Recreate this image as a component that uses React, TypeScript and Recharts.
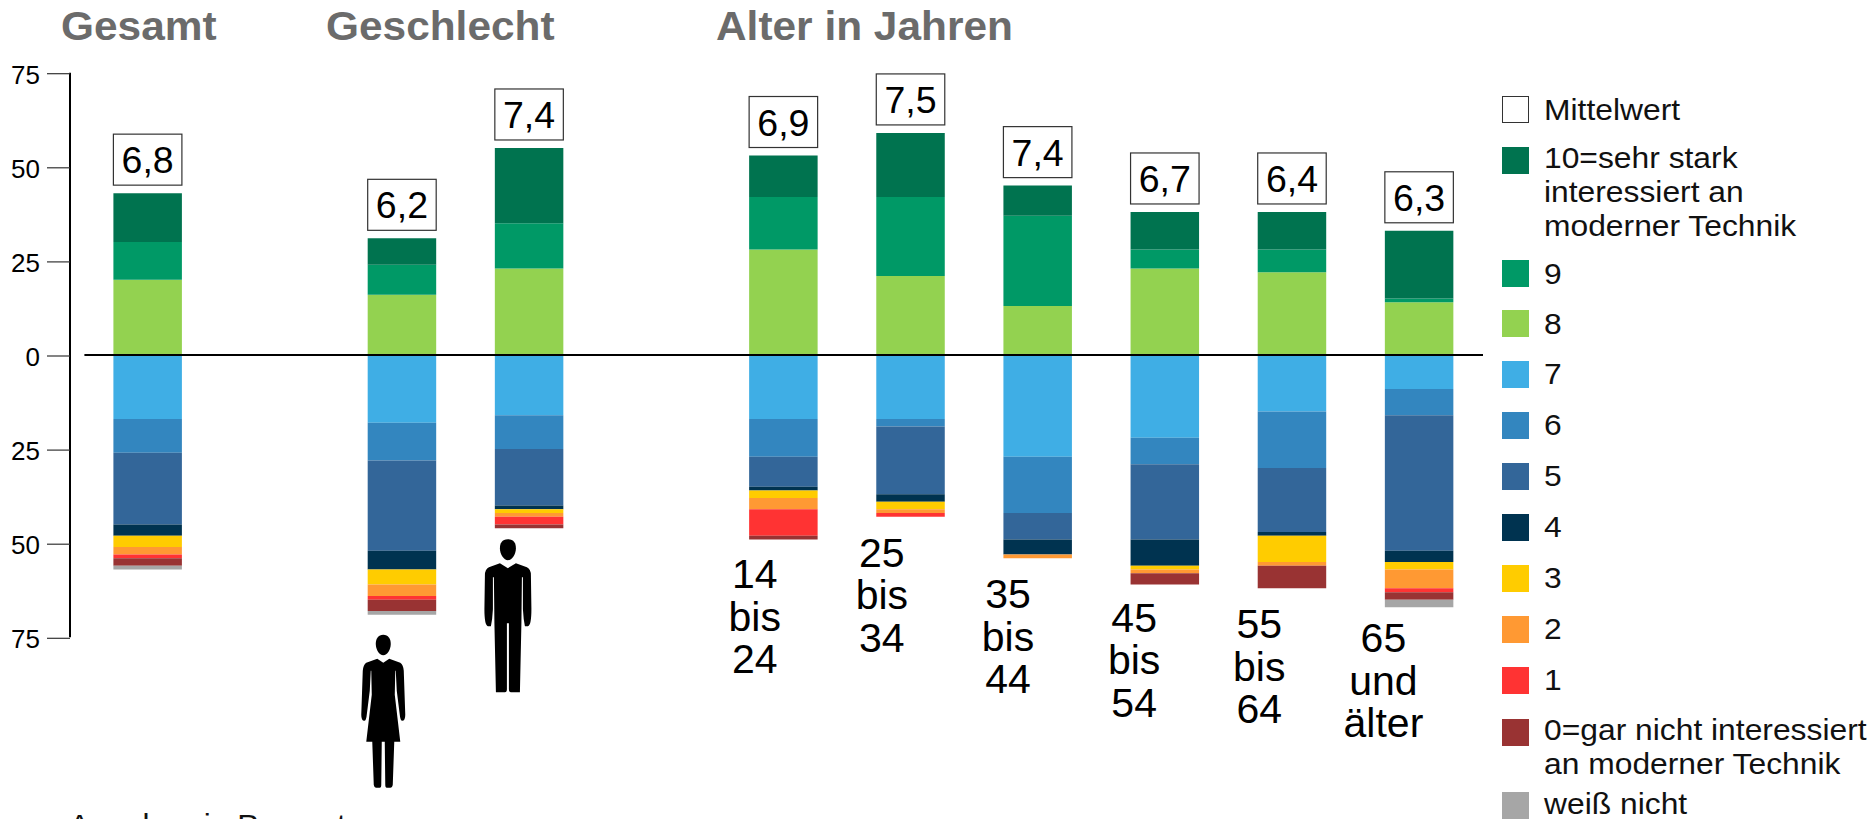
import React from "react";
import {
  Bar,
  ComposedChart,
  LabelList,
  Legend,
  Line,
  ReferenceLine,
  XAxis,
  YAxis,
} from "recharts";

const categories = ["Gesamt", "leer1", "Frauen", "Männer", "leer2", "14-24", "25-34", "35-44", "45-54", "55-64", "65+"];
const means = [6.8, null, 6.2, 7.4, null, 6.9, 7.5, 7.4, 6.7, 6.4, 6.3];
const ageLines = {
  "14-24": ["14", "bis", "24"],
  "25-34": ["25", "bis", "34"],
  "35-44": ["35", "bis", "44"],
  "45-54": ["45", "bis", "54"],
  "55-64": ["55", "bis", "64"],
  "65+": ["65", "und", "älter"],
};
const yTicks = [-75, -50, -25, 0, 25, 50, 75];

// positive part, from the zero line upwards
const s8 = [20, null, 16, 23, null, 28, 21, 13, 23, 22, 14];
const s9 = [10, null, 8, 12, null, 14, 21, 24, 5, 6, 1];
const s10 = [13, null, 7, 20, null, 11, 17, 8, 10, 10, 18];
// negative part, from the zero line downwards
const s7 = [-17, null, -18, -16, null, -17, -17, -27, -22, -15, -9];
const s6 = [-9, null, -10, -9, null, -10, -2, -15, -7, -15, -7];
const s5 = [-19, null, -24, -15, null, -8, -18, -7, -20, -17, -36];
const s4 = [-3, null, -5, -1, null, -1, -2, -4, -7, -1, -3];
const s3 = [-3, null, -4, -1, null, -2, -2, 0, -1, -7, -2];
const s2 = [-2, null, -3, -1, null, -3, -1, -1, -1, -1, -5];
const s1 = [-1, null, -1, -2, null, -7, -1, 0, 0, 0, -1];
const s0 = [-2, null, -3, -1, null, -1, 0, 0, -3, -6, -2];
const sWn = [-1, null, -1, 0, null, 0, 0, 0, 0, 0, -2];

const COLORS = {
  s10: "#00734f",
  s9: "#009966",
  s8: "#93d250",
  s7: "#3faee5",
  s6: "#3386bf",
  s5: "#336699",
  s4: "#003350",
  s3: "#ffcc00",
  s2: "#ff9933",
  s1: "#ff3333",
  s0: "#993333",
  sWn: "#a6a6a6",
};

const stackOrder = [
  { key: "s8", values: s8 },
  { key: "s9", values: s9 },
  { key: "s10", values: s10 },
  { key: "s7", values: s7 },
  { key: "s6", values: s6 },
  { key: "s5", values: s5 },
  { key: "s4", values: s4 },
  { key: "s3", values: s3 },
  { key: "s2", values: s2 },
  { key: "s1", values: s1 },
  { key: "s0", values: s0 },
  { key: "sWn", values: sWn },
];

const data = categories.map((name, i) => {
  const row: any = { name, mean: means[i] };
  let bottom = 0;
  stackOrder.forEach((s) => {
    row[s.key] = s.values[i];
    if ((s.values[i] ?? 0) < 0) bottom += s.values[i] as number;
  });
  row.bottom = means[i] == null ? null : bottom;
  return row;
});

const FONT = '"Liberation Sans", Arial, sans-serif';

const legendRows = [
  { top: 96, textTop: 93, color: "#fff", lines: ["Mittelwert"], box: true },
  { top: 147, textTop: 141, color: COLORS.s10, lines: ["10=sehr stark", "interessiert an", "moderner Technik"] },
  { top: 260, textTop: 257, color: COLORS.s9, lines: ["9"] },
  { top: 310, textTop: 307, color: COLORS.s8, lines: ["8"] },
  { top: 361, textTop: 357, color: COLORS.s7, lines: ["7"] },
  { top: 412, textTop: 408, color: COLORS.s6, lines: ["6"] },
  { top: 463, textTop: 459, color: COLORS.s5, lines: ["5"] },
  { top: 514, textTop: 510, color: COLORS.s4, lines: ["4"] },
  { top: 565, textTop: 561, color: COLORS.s3, lines: ["3"] },
  { top: 616, textTop: 612, color: COLORS.s2, lines: ["2"] },
  { top: 667, textTop: 663, color: COLORS.s1, lines: ["1"] },
  { top: 719, textTop: 713, color: COLORS.s0, lines: ["0=gar nicht interessiert", "an moderner Technik"] },
  { top: 792, textTop: 787, color: COLORS.sWn, lines: ["weiß nicht"] },
];

const titles = [
  { text: "Gesamt", left: 61 },
  { text: "Geschlecht", left: 326 },
  { text: "Alter in Jahren", left: 716 },
];

const renderLegend = () => (
  <div style={{ position: "relative", width: 370, height: 819, fontFamily: FONT }}>
    {legendRows.map((row) => (
      <div key={row.lines[0]}>
        <div
          style={{
            position: "absolute",
            left: 0,
            top: row.top,
            width: 27,
            height: 27,
            boxSizing: "border-box",
            background: row.color,
            border: row.box ? "1px solid #333" : "none",
          }}
        />
        <div
          style={{
            position: "absolute",
            left: 42,
            top: row.textTop,
            fontSize: 30,
            lineHeight: "34px",
            whiteSpace: "nowrap",
            color: "#111",
            transform: "scaleX(1.06)",
            transformOrigin: "left top",
          }}
        >
          {row.lines.map((l) => (
            <div key={l}>{l}</div>
          ))}
        </div>
      </div>
    ))}
  </div>
);

// the printed ticks sit about 1px below the bars' scale in the original
const YTick = ({ x, y, payload }: any) => (
  <g>
    <line x1={x + 7} x2={70} y1={y + 1} y2={y + 1} stroke="#333" strokeWidth={1.2} />
    <text
      transform={`translate(${x},${y + 11}) scale(1.02,1)`}
      textAnchor="end"
      fontFamily={FONT}
      fontSize={25.5}
      fill="#000"
    >
      {Math.abs(payload.value)}
    </text>
  </g>
);

const MeanBox = (props: any) => {
  const { value } = props;
  if (value == null) return null;
  const box = props.viewBox ?? props;
  const cx = box.x + box.width / 2;
  return (
    <g>
      <rect x={box.x} y={box.y - 59} width={box.width} height={51} fill="#fff" stroke="#333" strokeWidth={1.2} />
      <text
        x={cx}
        y={box.y - 20}
        textAnchor="middle"
        fontFamily={FONT}
        fontSize={37.5}
        fill="#000"
      >
        {String(value).replace(".", ",")}
      </text>
    </g>
  );
};

const MAN_HEAD = "M0 0C6 0 8 4 8 9C8 15 4 21 0 21C-4 21 -8 15 -8 9C-8 4 -6 0 0 0Z";
const MAN_BODY =
  "M-8 24L0 29L8 24L19 28Q23 30 23 36L23.5 70Q23.5 86 20 87L17 87Q15.5 80 15 70L15 38L14 38L13.5 84L12 153L3 153Q1 153 1 150L1 84L-1 84L-1 150Q-1 153 -3 153L-12 153L-13.5 84L-14 38L-15 38L-15 70Q-15.5 80 -17 87L-20 87Q-23.5 86 -23.5 70L-23 36Q-23 30 -19 28Z";
const WOMAN_HEAD = "M0 0C5 0 7.5 4 7.5 9C7.5 15 4 20.5 0 20.5C-4 20.5 -7.5 15 -7.5 9C-7.5 4 -5 0 0 0Z";
const WOMAN_BODY =
  "M-6 24L0 28L6 24L17 28Q20 30 20.5 36L22 80Q22 86 19 86Q17 86 16.5 80L13.5 56L12.5 36L12 36L11.5 60L17 107L11 107L9.5 150Q9 153 7 153L3.5 153Q2 153 2 150L1.5 107L-1.5 107L-2 150Q-2 153 -3.5 153L-7 153Q-9 153 -9.5 150L-11 107L-17 107L-11.5 60L-12 36L-12.5 36L-13.5 56L-16.5 80Q-17 86 -19 86Q-22 86 -22 80L-20.5 36Q-20 30 -17 28Z";

const ageStyle: any = {
  "14-24": { dx: -29, base: 48 },
  "25-34": { dx: -29, base: 49 },
  "35-44": { dx: -30, base: 49 },
  "45-54": { dx: -31, base: 46 },
  "55-64": { dx: -33, base: 49 },
  "65+": { dx: -36, base: 44 },
};

const BelowBar = (props: any) => {
  const { value, index } = props;
  if (value == null) return null;
  const box = props.viewBox ?? props;
  const x = box.x + (box.width ?? 0) / 2;
  const y = box.y;
  const name = categories[index];
  if (name === "Frauen" || name === "Männer") {
    const female = name === "Frauen";
    return (
      <g transform={`translate(${x + (female ? -19 : -21.5)},${y + (female ? 20 : 11)})`} fill="#000">
        <path d={female ? WOMAN_HEAD : MAN_HEAD} />
        <path d={female ? WOMAN_BODY : MAN_BODY} />
      </g>
    );
  }
  const lines = (ageLines as any)[name];
  if (!lines) return null;
  const st = ageStyle[name];
  return (
    <text textAnchor="middle" fontFamily={FONT} fontSize={41} fill="#000">
      {lines.map((l: string, i: number) => (
        <tspan key={l} x={x + st.dx} y={y + 1 + st.base + i * 42.5}>
          {l}
        </tspan>
      ))}
    </text>
  );
};

const ZeroLine = (props: any) => (
  <line x1={props.x1 + 14.4} x2={props.x2} y1={props.y1} y2={props.y2} stroke="#000" strokeWidth={2} />
);

export default function App() {
  return (
    <div
      style={{
        position: "absolute",
        left: 0,
        top: 0,
        width: 1872,
        height: 819,
        overflow: "hidden",
        background: "#fff",
        fontFamily: FONT,
      }}
    >
      {titles.map((t) => (
        <div
          key={t.text}
          style={{
            position: "absolute",
            left: t.left,
            top: 3,
            fontSize: 40,
            fontWeight: 700,
            lineHeight: "46px",
            color: "#6b6b6b",
            whiteSpace: "nowrap",
            transform: "scaleX(1.06)",
            transformOrigin: "left top",
          }}
        >
          {t.text}
        </div>
      ))}
      <ComposedChart
        width={1872}
        height={819}
        data={data}
        stackOffset="sign"
        barCategoryGap={0}
        margin={{ top: 72.7, right: 389, bottom: 181.7, left: 0 }}
      >
        <XAxis dataKey="name" hide padding={{ left: 14.4, right: 0 }} />
        <YAxis
          type="number"
          domain={[-75, 75]}
          ticks={yTicks}
          width={70}
          interval={0}
          tick={<YTick />}
          tickSize={23}
          tickMargin={7}
          tickLine={false}
          axisLine={{ stroke: "#000", strokeWidth: 2 }}
        />
        {stackOrder.map((s) => (
          <Bar
            key={s.key}
            dataKey={s.key}
            stackId="a"
            barSize={68.5}
            fill={(COLORS as any)[s.key]}
            isAnimationActive={false}
          >
            {s.key === "s10" && <LabelList dataKey="mean" content={<MeanBox />} />}
          </Bar>
        ))}
        <Line dataKey="bottom" stroke="none" dot={false} activeDot={false} isAnimationActive={false}>
          <LabelList dataKey="bottom" content={<BelowBar />} />
        </Line>
        <ReferenceLine y={0} shape={<ZeroLine />} />
        <Legend
          layout="vertical"
          align="center"
          verticalAlign="middle"
          content={renderLegend}
          wrapperStyle={{ left: 1502, top: 0, width: 370, height: 819, margin: 0 }}
        />
      </ComposedChart>
      <div
        style={{
          position: "absolute",
          left: 69,
          top: 807,
          fontSize: 30,
          lineHeight: "35px",
          whiteSpace: "nowrap",
          color: "#111",
          transform: "scaleX(1.05)",
          transformOrigin: "left top",
        }}
      >
        Angaben in Prozent
      </div>
    </div>
  );
}
